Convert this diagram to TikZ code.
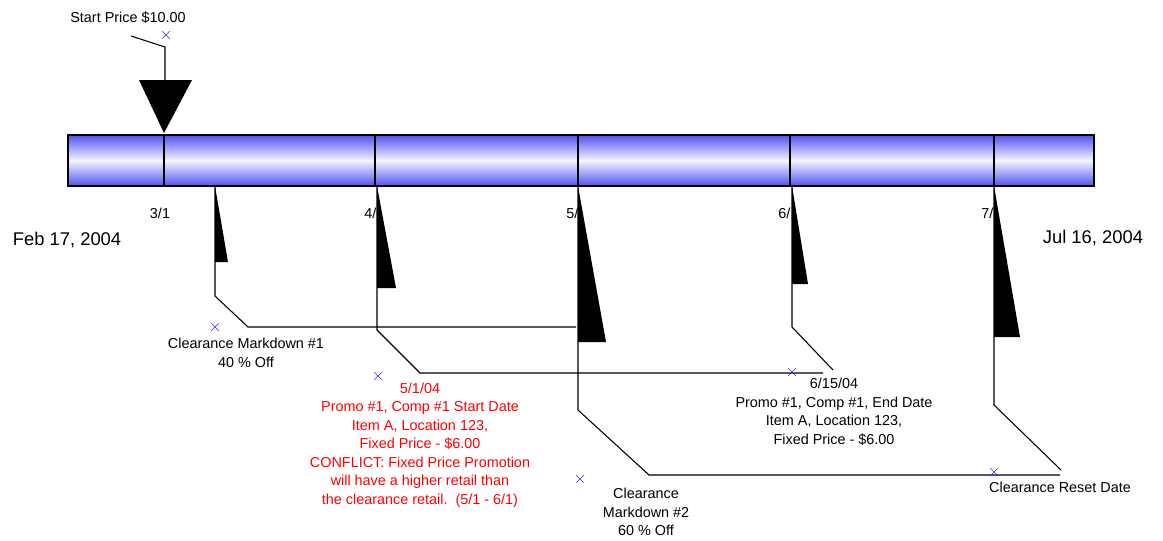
\documentclass[tikz,border=0pt]{standalone}
\usepackage{fontspec}
\setmainfont{Liberation Sans}
\usetikzlibrary{shapes.misc}
\definecolor{barblue}{RGB}{82,82,242}
\definecolor{barlight}{RGB}{244,244,255}
\definecolor{xblue}{RGB}{40,40,255}

\begin{document}
\begin{tikzpicture}[x=0.75pt,y=-0.75pt,line width=0.8pt]
\tikzstyle{every node}=[inner sep=0pt]
\tikzstyle{xmark}=[cross out, draw=xblue, line width=0.5pt, minimum size=5pt]
\tikzstyle{small}=[font=\fontsize{10.8}{13.9}\selectfont, align=center]
\tikzstyle{big}=[font=\fontsize{13.8}{16}\selectfont]
\useasboundingbox (0,0) rectangle (1163,540);
% timeline bar
\shade[top color=barblue, bottom color=barblue, middle color=barlight, draw=black] (68,135) rectangle (1094,186);
\coordinate (t1) at (164,135); \coordinate (b1) at (164,186);
\coordinate (t2) at (375,135); \coordinate (b2) at (375,186);
\coordinate (t3) at (578,135); \coordinate (b3) at (578,186);
\coordinate (t4) at (790,135); \coordinate (b4) at (790,186);
\coordinate (t5) at (994,135); \coordinate (b5) at (994,186);
\draw (t1) -- (b1);
\draw (t2) -- (b2);
\draw (t3) -- (b3);
\draw (t4) -- (b4);
\draw (t5) -- (b5);
\draw (160,213) node (d1) [small] {3/1};
\draw (377,213) node (d2) [small, anchor=east] {4/};
\draw (579,213) node (d3) [small, anchor=east] {5/};
\draw (791,213) node (d4) [small, anchor=east] {6/};
\draw (994,213) node (d5) [small, anchor=east] {7/};
\draw (67,240) node (from) [big] {Feb 17, 2004};
\draw (1093,238) node (to) [big] {Jul 16, 2004};
% start price
\coordinate (s0) at (131,36);
\coordinate (s1) at (165,47);
\coordinate (s2) at (165,80);
\draw (s0) -- (s1) -- (s2);
\fill (139,80) -- (192,80) -- (164,133) -- cycle;
\draw (166,35) node (x0) [xmark] {};
\draw (128,18) node (l0) [small] {Start Price \$10.00};
% flag 1
\coordinate (f1a) at (215,186); \coordinate (f1t) at (215,262); \coordinate (f1r) at (228,262);
\coordinate (f1b) at (215,296); \coordinate (f1c) at (248,327); \coordinate (f1d) at (576,327);
\fill (f1a) -- (f1t) -- (f1r) -- cycle;
\draw (f1a) -- (f1b) -- (f1c) -- (f1d);
\draw (215,327) node (x1) [xmark] {};
\draw (246,353) node (l1) [small] {Clearance Markdown \#1\\40 \% Off};
% flag 2
\coordinate (f2a) at (377,186); \coordinate (f2t) at (377,288); \coordinate (f2r) at (396,288);
\coordinate (f2b) at (377,330); \coordinate (f2c) at (420,373); \coordinate (f2d) at (823,373);
\fill (f2a) -- (f2t) -- (f2r) -- cycle;
\draw (f2a) -- (f2b) -- (f2c) -- (f2d);
\draw (378,376) node (x2) [xmark] {};
\draw (420,445) node (l2) [small, text=red] {5/1/04\\Promo \#1, Comp \#1 Start Date\\Item A, Location 123,\\Fixed Price - \$6.00\\CONFLICT: Fixed Price Promotion\\will have a higher retail than\\the clearance retail.\ \ (5/1 - 6/1)};
% flag 3
\coordinate (f3a) at (578,186); \coordinate (f3t) at (578,342); \coordinate (f3r) at (606,342);
\coordinate (f3b) at (578,410); \coordinate (f3c) at (649,475); \coordinate (f3d) at (1060,475);
\fill (f3a) -- (f3t) -- (f3r) -- cycle;
\draw (f3a) -- (f3b) -- (f3c) -- (f3d);
\draw (580,479) node (x3) [xmark] {};
\draw (646,512) node (l3) [small] {Clearance\\Markdown \#2\\60 \% Off};
% flag 4
\coordinate (f4a) at (792,186); \coordinate (f4t) at (792,284); \coordinate (f4r) at (808,284);
\coordinate (f4b) at (792,327); \coordinate (f4c) at (833,370);
\fill (f4a) -- (f4t) -- (f4r) -- cycle;
\draw (f4a) -- (f4b) -- (f4c);
\draw (792,372) node (x4) [xmark] {};
\draw (834,412) node (l4) [small] {6/15/04\\Promo \#1, Comp \#1, End Date\\Item A, Location 123,\\Fixed Price - \$6.00};
% flag 5
\coordinate (f5a) at (994,186); \coordinate (f5t) at (994,337); \coordinate (f5r) at (1020,337);
\coordinate (f5b) at (994,405); \coordinate (f5c) at (1061,470);
\fill (f5a) -- (f5t) -- (f5r) -- cycle;
\draw (f5a) -- (f5b) -- (f5c);
\draw (994,472) node (x5) [xmark] {};
\draw (1060,487) node (l5) [small] {Clearance Reset Date};
\end{tikzpicture}
\end{document}
